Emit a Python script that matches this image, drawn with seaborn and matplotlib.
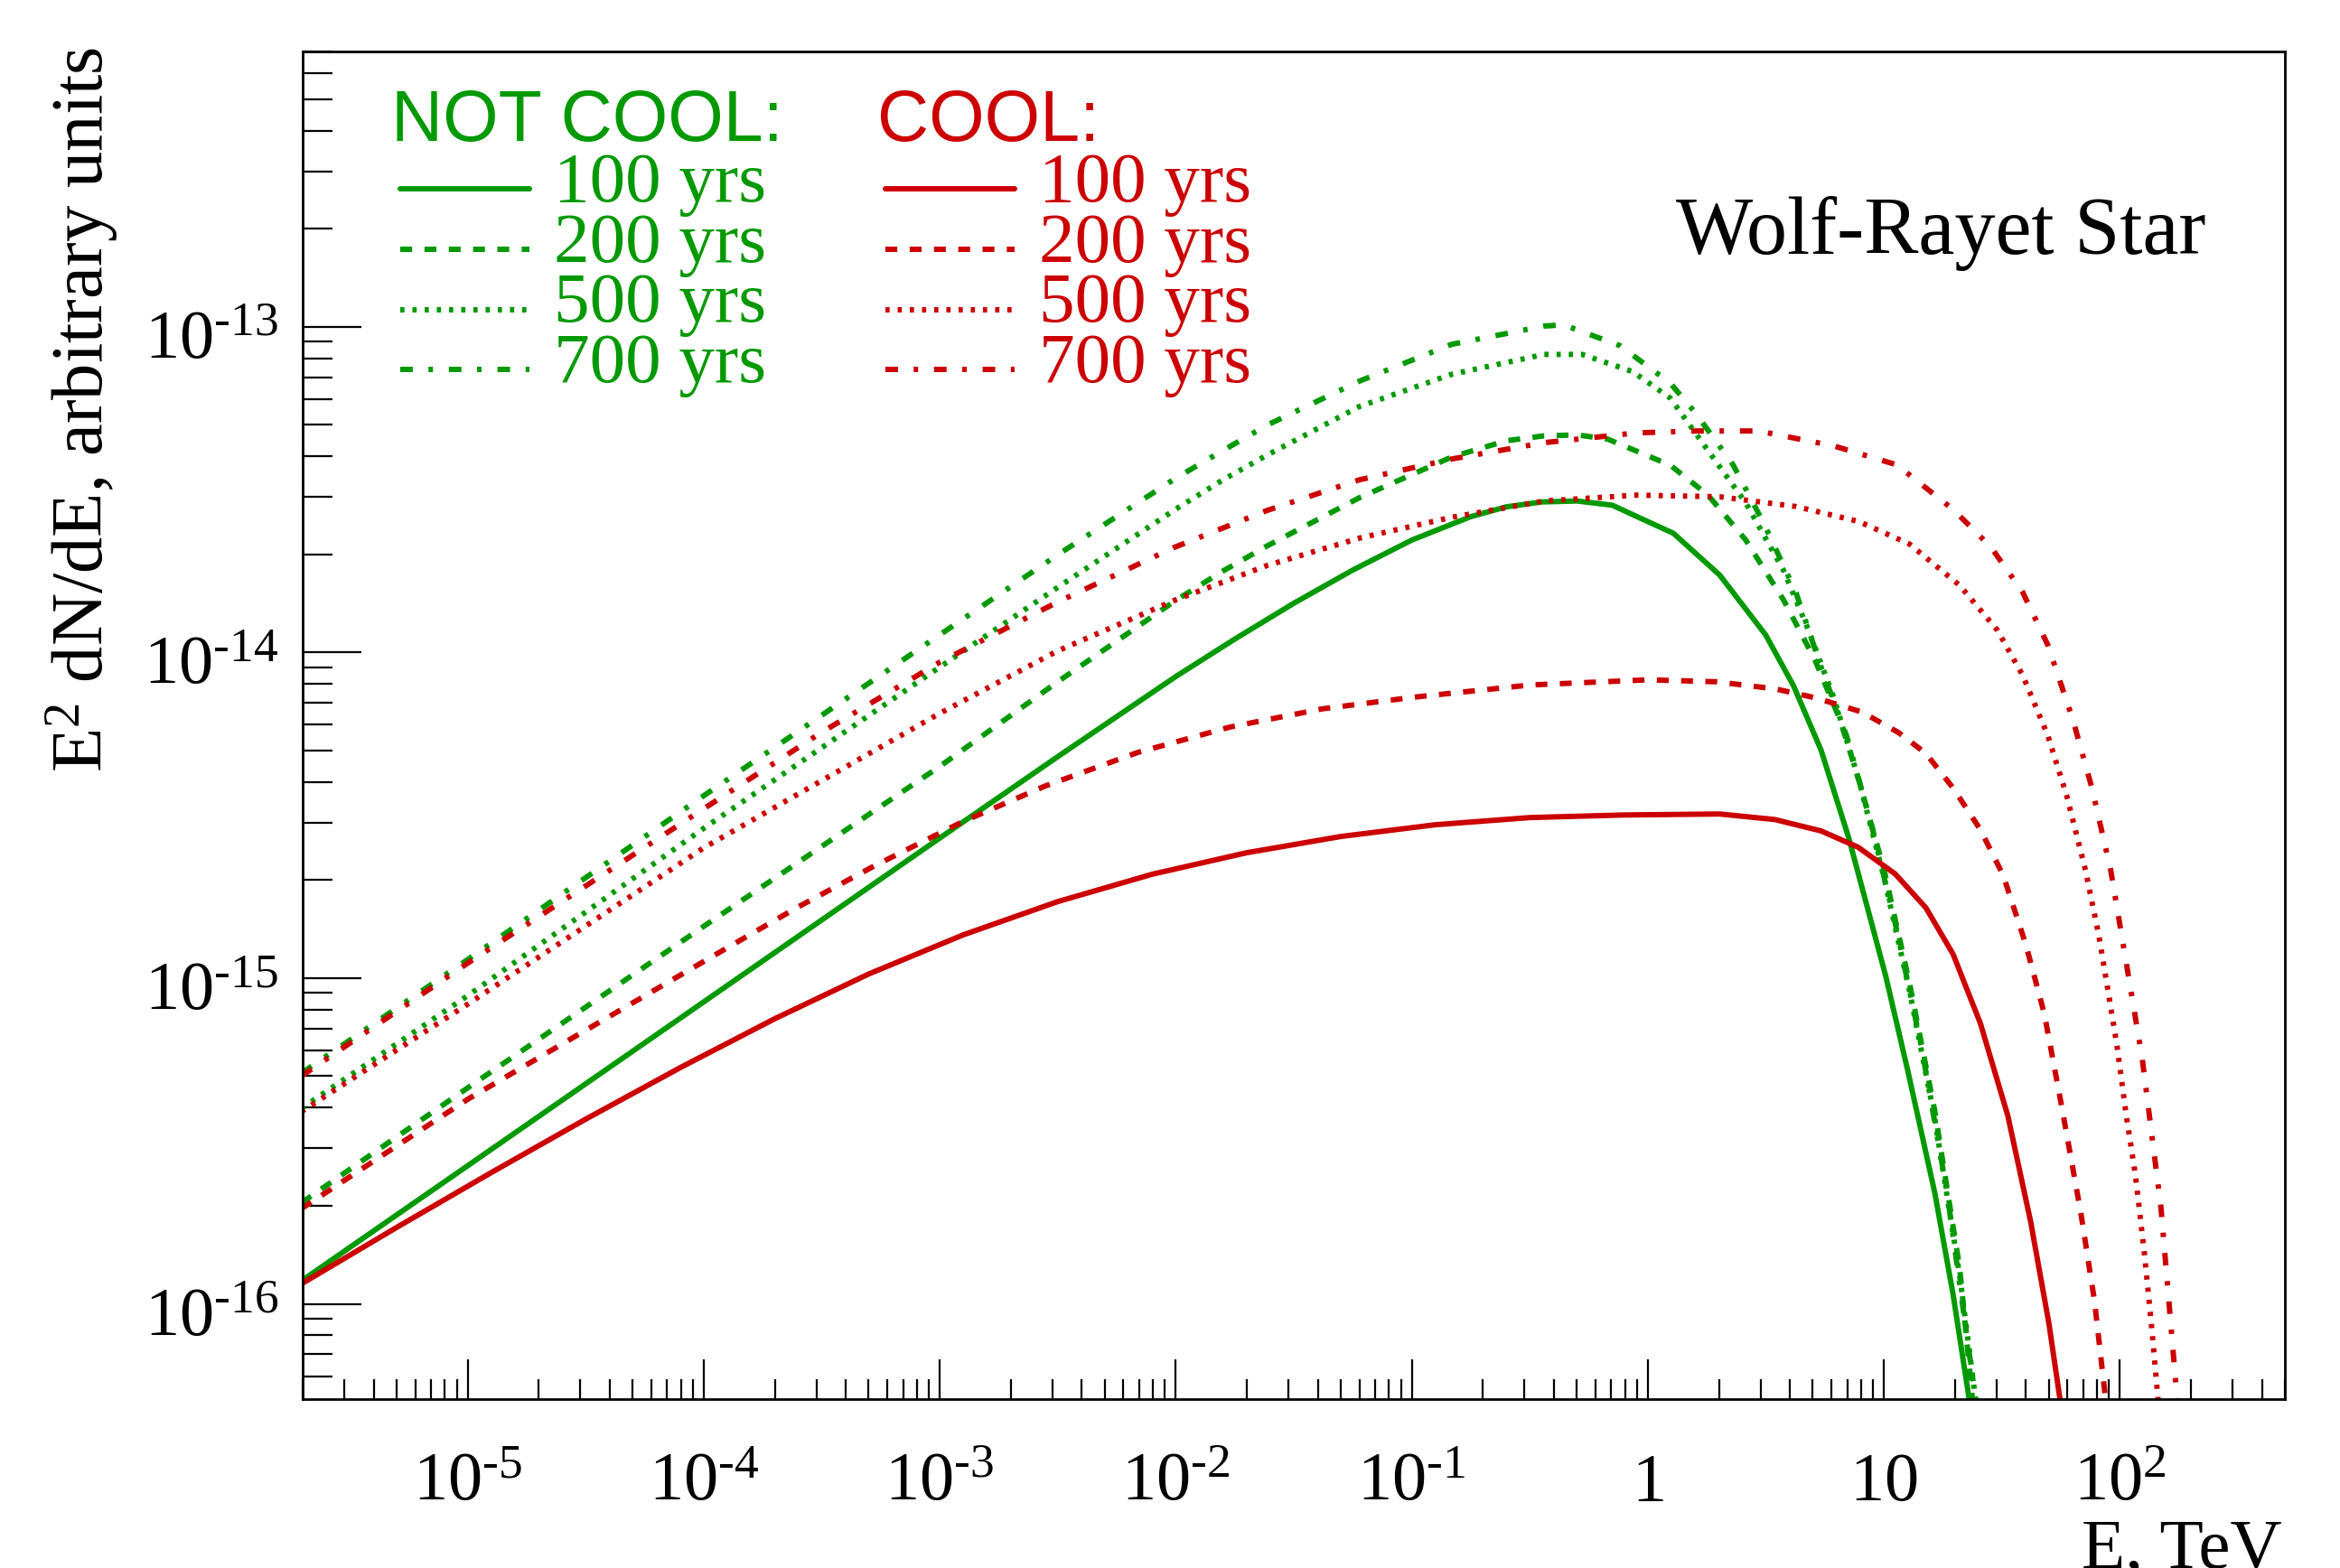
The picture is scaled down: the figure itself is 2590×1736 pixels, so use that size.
import numpy as np
import pandas as pd
import matplotlib
matplotlib.use('Agg')
import matplotlib.pyplot as plt
import seaborn as sns
from matplotlib.ticker import LogLocator, NullFormatter
from matplotlib.transforms import ScaledTranslation
from matplotlib.lines import Line2D
from matplotlib.legend_handler import HandlerLine2D

# curves, stored as log10(E / TeV) and log10(E^2 dN/dE)
ages = ['100 yrs', '200 yrs', '500 yrs', '700 yrs']

# NOT COOL (green)
nc100_loge = [-5.705, -5.0, -4.0, -3.0, -2.5, -2.0, -1.75, -1.5, -1.25, -1.0, -0.75, -0.6, -0.45, -0.3, -0.15,
              -0.049, 0.108, 0.304, 0.499, 0.617, 0.734, 0.851, 1.008, 1.10, 1.216, 1.293, 1.361, 1.38]
nc100_logf = [-15.93, -15.576, -15.073, -14.57, -14.32, -14.074, -13.959, -13.849, -13.747, -13.655, -13.583,
              -13.553, -13.538, -13.535, -13.548, -13.582, -13.634, -13.762, -13.946, -14.102, -14.30, -14.569,
              -14.994, -15.28, -15.66, -15.97, -16.29, -16.40]
nc200_loge = [-5.705, -5.0, -4.0, -3.0, -2.5, -2.0, -1.8, -1.613, -1.222, -0.831, -0.6, -0.44, -0.3, -0.17, 0.095,
              0.255, 0.415, 0.575, 0.708, 0.815, 0.894, 1.001, 1.108, 1.215, 1.321, 1.375, 1.395]
nc200_logf = [-15.69, -15.337, -14.841, -14.35, -14.09, -13.84, -13.75, -13.673, -13.525, -13.40, -13.35,
              -13.335, -13.332, -13.345, -13.425, -13.517, -13.655, -13.839, -14.023, -14.208, -14.392, -14.668,
              -15.013, -15.405, -15.889, -16.29, -16.44]
nc500_loge = [-5.705, -5.0, -4.0, -3.0, -2.5, -2.0, -1.8, -1.613, -1.222, -0.831, -0.44, -0.278, -0.064, 0.095,
              0.255, 0.415, 0.575, 0.681, 0.788, 0.894, 1.001, 1.108, 1.215, 1.321, 1.388, 1.41]
nc500_logf = [-15.40, -15.054, -14.54, -14.045, -13.80, -13.56, -13.47, -13.394, -13.245, -13.146, -13.085,
              -13.085, -13.138, -13.219, -13.38, -13.541, -13.748, -13.932, -14.139, -14.392, -14.692, -15.037,
              -15.428, -15.912, -16.29, -16.42]
nc700_loge = [-5.705, -5.0, -4.0, -3.0, -2.5, -2.0, -1.8, -1.613, -1.222, -0.831, -0.44, -0.358, -0.118, 0.095,
              0.202, 0.362, 0.495, 0.628, 0.735, 0.841, 0.948, 1.055, 1.162, 1.268, 1.388, 1.41]
nc700_logf = [-15.292, -14.943, -14.44, -13.946, -13.70, -13.465, -13.38, -13.302, -13.167, -13.054, -12.998,
              -12.994, -13.058, -13.173, -13.265, -13.425, -13.609, -13.817, -14.047, -14.254, -14.53, -14.853,
              -15.221, -15.659, -16.29, -16.42]

# COOL (red)
co100_loge = [-5.705, -5.3, -4.9, -4.5, -4.1, -3.7, -3.3, -2.9, -2.5, -2.1, -1.7, -1.3, -0.9, -0.5, -0.1, 0.304,
              0.538, 0.734, 0.891, 1.048, 1.178, 1.293, 1.409, 1.525, 1.622, 1.699, 1.747, 1.77]
co100_logf = [-15.939, -15.765, -15.597, -15.433, -15.275, -15.125, -14.987, -14.867, -14.765, -14.681, -14.615,
              -14.565, -14.529, -14.507, -14.499, -14.496, -14.513, -14.548, -14.598, -14.68, -14.784, -14.926,
              -15.139, -15.422, -15.748, -16.059, -16.297, -16.42]
co200_loge = [-5.705, -5.0, -4.5, -3.922, -3.609, -3.276, -2.904, -2.553, -2.161, -1.77, -1.378, -0.987, -0.5,
              0.0, 0.29, 0.541, 0.714, 0.907, 1.062, 1.178, 1.293, 1.409, 1.506, 1.602, 1.68, 1.757, 1.834, 1.892,
              1.94, 1.96]
co200_logf = [-15.708, -15.372, -15.16, -14.916, -14.785, -14.655, -14.52, -14.41, -14.307, -14.229, -14.173,
              -14.137, -14.10, -14.084, -14.09, -14.112, -14.14, -14.183, -14.246, -14.31, -14.416, -14.544,
              -14.685, -14.898, -15.11, -15.408, -15.719, -15.989, -16.297, -16.43]
co500_loge = [-5.705, -5.0, -4.0, -3.0, -2.5, -2.005, -1.613, -1.222, -0.831, -0.44, -0.049, 0.304, 0.628, 0.894,
              1.108, 1.321, 1.481, 1.588, 1.694, 1.774, 1.854, 1.911, 1.95, 1.988, 2.027, 2.066, 2.104, 2.133,
              2.162, 2.175]
co500_logf = [-15.41, -15.08, -14.60, -14.187, -13.995, -13.84, -13.733, -13.649, -13.585, -13.535, -13.517,
              -13.522, -13.552, -13.598, -13.667, -13.794, -13.932, -14.07, -14.254, -14.438, -14.668, -14.87,
              -15.04, -15.209, -15.422, -15.606, -15.847, -16.059, -16.297, -16.40]
co700_loge = [-5.705, -5.0, -4.0, -3.5, -3.0, -2.5, -2.005, -1.613, -1.222, -0.831, -0.44, -0.049, 0.202, 0.468,
              0.788, 1.055, 1.295, 1.454, 1.588, 1.694, 1.801, 1.881, 1.961, 2.041, 2.094, 2.174, 2.241, 2.26]
co700_logf = [-15.301, -14.954, -14.48, -14.245, -14.03, -13.845, -13.677, -13.564, -13.47, -13.406, -13.356,
              -13.326, -13.32, -13.32, -13.366, -13.424, -13.562, -13.677, -13.815, -13.976, -14.207, -14.415,
              -14.668, -15.014, -15.244, -15.705, -16.28, -16.40]

xtick_pos = [1e-5, 1e-4, 1e-3, 1e-2, 1e-1, 1, 10, 100]
xtick_lab = [r'$10^{\text{-5}}$', r'$10^{\text{-4}}$', r'$10^{\text{-3}}$', r'$10^{\text{-2}}$',
             r'$10^{\text{-1}}$', '$1$', '$10$', '$10^{2}$']
ytick_pos = [1e-16, 1e-15, 1e-14, 1e-13]
ytick_lab = [r'$10^{\text{-16}}$', r'$10^{\text{-15}}$', r'$10^{\text{-14}}$', r'$10^{\text{-13}}$']

GREEN = '#009900'
RED = '#cc0000'
LW = 4.3
STYLES = {
    '100 yrs': '-',
    '200 yrs': (0, (2.2, 2.3)),
    '500 yrs': (0, (0.78, 1.48)),
    '700 yrs': (0, (2.33, 2.9, 0.83, 2.95)),
}

curves = {
    ('NOT COOL', '100 yrs'): (nc100_loge, nc100_logf),
    ('NOT COOL', '200 yrs'): (nc200_loge, nc200_logf),
    ('NOT COOL', '500 yrs'): (nc500_loge, nc500_logf),
    ('NOT COOL', '700 yrs'): (nc700_loge, nc700_logf),
    ('COOL', '100 yrs'): (co100_loge, co100_logf),
    ('COOL', '200 yrs'): (co200_loge, co200_logf),
    ('COOL', '500 yrs'): (co500_loge, co500_logf),
    ('COOL', '700 yrs'): (co700_loge, co700_logf),
}
rows = []
for (mode, age), (le, lf) in curves.items():
    for a, b in zip(le, lf):
        rows.append({'mode': mode, 'age': age, 'E': 10.0 ** a, 'flux': 10.0 ** b})
df = pd.DataFrame(rows)


class LowLineHandler(HandlerLine2D):
    """legend sample sits near the text baseline, as in the original"""
    def create_artists(self, legend, orig_handle, xdescent, ydescent, width, height, fontsize, trans):
        arts = super().create_artists(legend, orig_handle, xdescent, ydescent, width, height, fontsize, trans)
        for a in arts:
            a.set_ydata(np.asarray(a.get_ydata(), dtype=float) - 10.1)
        return arts


sns.set_theme(style='white')
plt.rcParams['font.family'] = ['Liberation Serif', 'DejaVu Serif']
plt.rcParams['mathtext.fontset'] = 'custom'
plt.rcParams['mathtext.rm'] = 'Liberation Serif'
plt.rcParams['mathtext.it'] = 'Liberation Serif:italic'
plt.rcParams['mathtext.default'] = 'regular'

fig = plt.figure(figsize=(25.9, 17.36), dpi=100, facecolor='white')
ax = fig.add_axes([335 / 2590, 1 - 1549 / 1736, (2529 - 335) / 2590, (1549 - 57) / 1736])
ax.set_xscale('log')
ax.set_yscale('log')

handles = {}
for (mode, age) in curves:
    sub = df[(df['mode'] == mode) & (df['age'] == age)]
    color = GREEN if mode == 'NOT COOL' else RED
    sns.lineplot(data=sub, x='E', y='flux', ax=ax, color=color, lw=LW,
                 linestyle=STYLES[age], errorbar=None, sort=False, estimator=None)
    handles[(mode, age)] = ax.get_lines()[-1]

ax.set_xlim(2e-6, 500)
ax.set_ylim(5.1e-17, 7e-13)

for sp in ax.spines.values():
    sp.set_color('black')
    sp.set_linewidth(2.0)

ax.set_xticks(xtick_pos, xtick_lab)
ax.set_yticks(ytick_pos, ytick_lab)
ax.xaxis.set_minor_locator(LogLocator(base=10, subs=np.arange(2, 10), numticks=30))
ax.yaxis.set_minor_locator(LogLocator(base=10, subs=np.arange(2, 10), numticks=30))
ax.xaxis.set_minor_formatter(NullFormatter())
ax.yaxis.set_minor_formatter(NullFormatter())
ax.tick_params(which='both', direction='in', top=False, right=False, bottom=True, left=True,
               color='black', width=1.6, labelcolor='black', labelsize=55)
ax.tick_params(axis='x', which='major', length=32, pad=81)
ax.tick_params(axis='x', which='minor', length=16)
ax.tick_params(axis='y', which='major', length=47, pad=19)
ax.tick_params(axis='y', which='minor', length=24)

ax.set_xlabel('E, TeV', loc='right', fontsize=57, color='black')
ax.xaxis.set_label_coords((2526 - 335) / 2194, -(1681 - 1549) / 1492)
ax.set_ylabel('E$^{2}$ dN/dE, arbitrary units', loc='top', fontsize=58, color='black')
ax.yaxis.set_label_coords((134 - 335) / 2194, 1.0033)

ax.text(0.96, 0.8499, 'Wolf-Rayet Star', transform=ax.transAxes, ha='right', va='baseline',
        fontsize=65, color='black')

# legend headers
ax.text(0.0447, 0.9339, 'NOT COOL:', transform=ax.transAxes, ha='left', va='baseline',
        fontsize=57, color=GREEN, family='Liberation Sans')
ax.text(0.2901, 0.9339, 'COOL:', transform=ax.transAxes, ha='left', va='baseline',
        fontsize=57, color=RED, family='Liberation Sans')

leg_kw = dict(loc='upper left', frameon=False, fontsize=57, borderpad=0, borderaxespad=0,
              handlelength=1.807, handletextpad=0.35, labelspacing=-0.072, handleheight=0.7,
              handler_map={Line2D: LowLineHandler()})
leg1 = ax.legend([handles[('NOT COOL', a)] for a in ages], ages, bbox_to_anchor=(0.0491, 0.9259),
                 labelcolor=GREEN, **leg_kw)
ax.add_artist(leg1)
leg2 = ax.legend([handles[('COOL', a)] for a in ages], ages, bbox_to_anchor=(0.2938, 0.9259),
                 labelcolor=RED, **leg_kw)

# baseline-aligned tick labels, the way the original places them
for lab in ax.get_xticklabels():
    lab.set_verticalalignment('baseline')
for lab in ax.get_yticklabels():
    lab.set_verticalalignment('baseline')
    lab.set_transform(lab.get_transform() + ScaledTranslation(0, -0.35, fig.dpi_scale_trans))

fig.savefig('out.png', dpi=100, facecolor='white')
